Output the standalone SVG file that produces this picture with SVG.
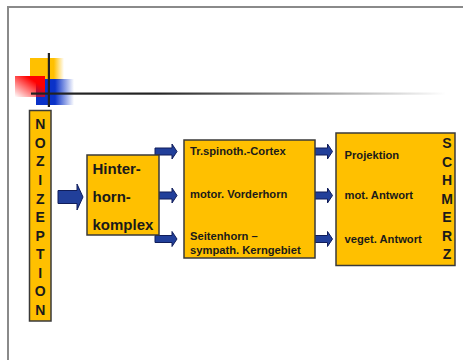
<svg xmlns="http://www.w3.org/2000/svg" width="463" height="360" viewBox="0 0 463 360">
<defs>
<style>
.box{fill:#FFC000;stroke:#3a3a3a;stroke-width:1.5}
.arr{fill:#213F9A;stroke:#101d5a;stroke-width:1}
text{font-family:"Liberation Sans",Arial,sans-serif;font-weight:bold;fill:#1a1a1a}
.big{font-size:15px}
.mid{font-size:11.2px}
.let{font-size:14px;text-anchor:middle}
</style>
<linearGradient id="gy" x1="0" y1="0" x2="1" y2="0"><stop offset="0.7" stop-color="#FFC000"/><stop offset="1" stop-color="#FFC000" stop-opacity="0"/></linearGradient>
<linearGradient id="gb" x1="0" y1="0" x2="1" y2="0"><stop offset="0.5" stop-color="#0A32C8"/><stop offset="1" stop-color="#0A32C8" stop-opacity="0"/></linearGradient>
<linearGradient id="gr" x1="1" y1="0" x2="0" y2="1"><stop offset="0.3" stop-color="#FF0000"/><stop offset="1" stop-color="#FF0000" stop-opacity="0"/></linearGradient>
<linearGradient id="gl" x1="0" y1="0" x2="1" y2="0"><stop offset="0.3" stop-color="#222"/><stop offset="1" stop-color="#222" stop-opacity="0"/></linearGradient>
<path id="sa" d="M0,-3.5 H17 V-7.5 L22,0 L17,7.5 V3.5 H0 Z"/>
</defs>
<rect width="463" height="360" fill="#fff"/>
<path d="M8,360 V7 H463" fill="none" stroke="#8a8a8a" stroke-width="2"/>
<g id="decoration">
<rect x="30" y="58" width="34" height="22" fill="url(#gy)"/>
<rect x="36" y="79" width="38" height="26" fill="url(#gb)"/>
<rect x="15" y="76" width="30" height="21" fill="url(#gr)"/>
<rect x="31" y="92.5" width="415" height="2.2" fill="url(#gl)"/>
<rect x="47.8" y="53" width="2.2" height="54" fill="#222"/>
</g>
<g id="connectors">
<path class="arr" d="M58,190.5 H77 V184 L83,197 L77,210 V203.5 H58 Z"/>
<use href="#sa" class="arr" x="155" y="151.5"/>
<use href="#sa" class="arr" x="155" y="195.5"/>
<use href="#sa" class="arr" x="155" y="239"/>
<use href="#sa" class="arr" x="310.5" y="151.5"/>
<use href="#sa" class="arr" x="310.5" y="195.5"/>
<use href="#sa" class="arr" x="310.5" y="239"/>
</g>
<g id="nozizeption">
<rect class="box" x="29.5" y="110.5" width="21.5" height="210.5"/>
<text class="let" x="40.2" y="129.3">N</text>
<text class="let" x="40.2" y="147.9">O</text>
<text class="let" x="40.2" y="166.4">Z</text>
<text class="let" x="40.2" y="185">I</text>
<text class="let" x="40.2" y="203.6">Z</text>
<text class="let" x="40.2" y="222.2">E</text>
<text class="let" x="40.2" y="240.7">P</text>
<text class="let" x="40.2" y="259.3">T</text>
<text class="let" x="40.2" y="277.9">I</text>
<text class="let" x="40.2" y="296.4">O</text>
<text class="let" x="40.2" y="315">N</text>
</g>
<g id="hinterhorn">
<rect class="box" x="87" y="155" width="72" height="80"/>
<text class="big" x="92.5" y="173.5">Hinter-</text>
<text class="big" x="92.5" y="201.5">horn-</text>
<text class="big" x="92.5" y="229.5">komplex</text>
</g>
<g id="bahnen">
<rect class="box" x="184" y="140" width="131" height="118"/>
<text class="mid" x="190" y="154.5">Tr.spinoth.-Cortex</text>
<text class="mid" x="190" y="197.5">motor. Vorderhorn</text>
<text class="mid" x="190" y="239.5">Seitenhorn –</text>
<text class="mid" x="190" y="253.5">sympath. Kerngebiet</text>
</g>
<g id="schmerz">
<rect class="box" x="336" y="133" width="119" height="132.5"/>
<text class="mid" x="344.5" y="158.5">Projektion</text>
<text class="mid" x="344.5" y="198.5">mot. Antwort</text>
<text class="mid" x="344.5" y="242.5">veget. Antwort</text>
<text class="let" x="447" y="148.3">S</text>
<text class="let" x="447" y="166.8">C</text>
<text class="let" x="447" y="185.3">H</text>
<text class="let" x="447" y="203.8">M</text>
<text class="let" x="447" y="222.3">E</text>
<text class="let" x="447" y="240.8">R</text>
<text class="let" x="447" y="259.3">Z</text>
</g>
</svg>
